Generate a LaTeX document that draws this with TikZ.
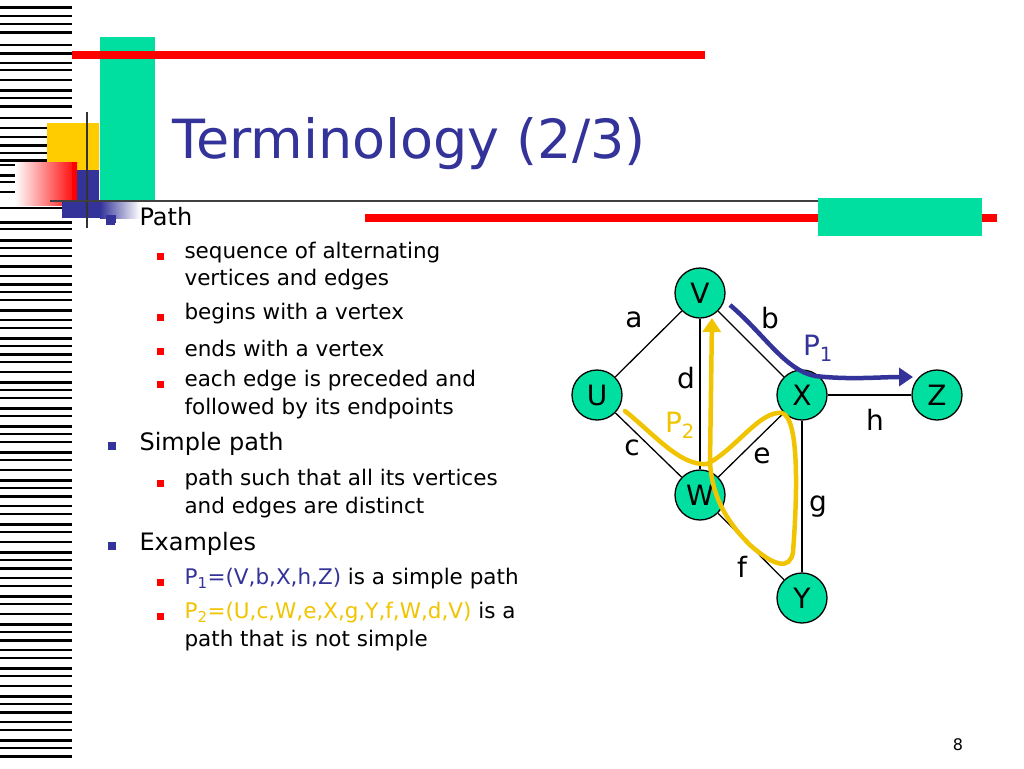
\documentclass[tikz,border=0pt]{standalone}
\usepackage{fontspec}
\setmainfont{DejaVu Sans}
\usetikzlibrary{arrows.meta}
\definecolor{tblue}{RGB}{51,51,153}
\definecolor{teal2}{RGB}{0,222,160}
\definecolor{gold}{RGB}{255,204,0}
\definecolor{pyel}{RGB}{240,196,0}
\begin{document}
\begin{tikzpicture}[x=1pt,y=-1pt,
  vtx/.style={circle,draw=black,line width=1.3pt,fill=teal2,minimum size=50pt,inner sep=0pt,font=\fontsize{28}{28}\selectfont},
  lab/.style={font=\fontsize{28}{28}\selectfont},
  edge/.style={line width=1.3pt},
  lone/.style={anchor=west,font=\fontsize{24}{24}\selectfont},
  ltwo/.style={anchor=west,font=\fontsize{21.5}{21.5}\selectfont},
  bone/.style={fill=tblue,minimum size=8pt,inner sep=0pt},
  btwo/.style={fill=red,minimum size=7pt,inner sep=0pt}]
\useasboundingbox (0,0) rectangle (1024,768);
% barcode
\foreach \yy/\w in {8/3,16/2,24/1.5,33/3,45/1.5,54/3,63/2,70/1.5,80/1.5,90/3,98/1.5,106/3,118/1.5,128/1.5,137/1.5,145/3,153/1.5,160/3,165/1.5,175/3,182/1.5,192/1.5,208/1.5,222/3,229/1.5,240/3,248/1.5,256/1.5,266/3,276/1.5,284/3,292/1.5,300/1.5,310/3,320/1.5,328/1.5,338/3,346/1.5,354/3,362/1.5,372/1.5,382/3,390/1.5,398/1.5,408/3,416/1.5,426/3,434/1.5,442/1.5,452/3,460/1.5,470/1.5,480/3,488/1.5,496/3,506/1.5,514/1.5,524/3,532/1.5,542/1.5,552/3,560/1.5,568/3,578/1.5,586/1.5,596/3,604/1.5,614/1.5,624/3,632/1.5,640/3,650/1.5,658/1.5,668/3,676/1.5,686/1.5,696/3,704/1.5,712/3,722/1.5,730/1.5,740/3,748/1.5,756/3}
  \fill[black] (0,\yy-\w/2) rectangle (72,\yy+\w/2);
% decorations
\fill[teal2] (100,37) rectangle (155,200);
\fill[red] (72,51) rectangle (705,59);
\fill[gold] (47,123) rectangle (99,170);
\shade[left color=white,right color=red] (15,162) rectangle (77,205);
\fill[red] (72,162) rectangle (77,205);
\fill[tblue] (77,170) rectangle (99,200);
\fill[tblue] (62,200) rectangle (100,218);
\shade[left color=tblue,right color=white] (100,200) rectangle (140,218);
\fill[tblue] (106,215) rectangle (115,225);
\draw[line width=2.5pt,black!80] (87,112) -- (87,228);
\draw[line width=2.5pt,black!75] (50,201) -- (820,201);
\fill[red] (365,214) rectangle (997,222);
\fill[teal2] (818,198) rectangle (982,236);
% title
\node[anchor=base west,text=tblue,font=\fontsize{54}{54}\selectfont,inner sep=0] (title) at (172,158) {Terminology (2/3)};
% bullets
\node[bone] (b1) at (112,219) {};
\node[lone] (t1) at (136,217) {Path};
\node[btwo] (s1) at (160,256) {}; \node[ltwo] (u1) at (181,253) {sequence of alternating};
\node[ltwo] (u1b) at (181,280) {vertices and edges};
\node[btwo] (s2) at (160,317) {}; \node[ltwo] (u2) at (181,314) {begins with a vertex};
\node[btwo] (s3) at (160,351) {}; \node[ltwo] (u3) at (181,348) {ends with a vertex};
\node[btwo] (s4) at (160,384) {}; \node[ltwo] (u4) at (181,381) {each edge is preceded and};
\node[ltwo] (u4b) at (181,409) {followed by its endpoints};
\node[bone] (b2) at (112,446) {};
\node[lone] (t2) at (136,444) {Simple path};
\node[btwo] (s5) at (160,483) {}; \node[ltwo] (u5) at (181,480) {path such that all its vertices};
\node[ltwo] (u5b) at (181,508) {and edges are distinct};
\node[bone] (b3) at (112,546) {};
\node[lone] (t3) at (136,544) {Examples};
\node[btwo] (s6) at (160,582) {}; \node[ltwo] (u6) at (181,579) {\textcolor{tblue}{P\textsubscript{1}=(V,b,X,h,Z)} is a simple path};
\node[btwo] (s7) at (160,616) {}; \node[ltwo] (u7) at (181,613) {\textcolor{pyel}{P\textsubscript{2}=(U,c,W,e,X,g,Y,f,W,d,V)} is a};
\node[ltwo] (u7b) at (181,641) {path that is not simple};
\node[font=\fontsize{16}{16}\selectfont] (pg) at (958,745) {8};
% graph
\node[vtx] (V) at (700,293) {V};
\node[vtx] (U) at (597,395) {U};
\node[vtx] (X) at (802,395) {X};
\node[vtx] (Z) at (937,395) {Z};
\node[vtx] (W) at (700,495) {W};
\node[vtx] (Y) at (802,598) {Y};
\draw[edge] (U) -- (V); \draw[edge] (V) -- (X); \draw[edge] (V) -- (W);
\draw[edge] (U) -- (W); \draw[edge] (W) -- (X); \draw[edge] (X) -- (Z);
\draw[edge] (X) -- (Y); \draw[edge] (W) -- (Y);
% P1
\coordinate (p1s) at (730,305);
\coordinate (p1e) at (913,377);
\draw[tblue,line width=4.5pt,-{Triangle[length=14pt,width=18pt]}] (p1s) .. controls (765,335) and (785,370) .. (815,376) .. controls (850,380) and (880,377) .. (p1e);
% P2
\coordinate (p2s) at (625,411);
\coordinate (p2e) at (712,318);
\draw[pyel,line width=4.5pt,line cap=round,-{Triangle[length=14pt,width=18pt]}] (p2s) .. controls (655,435) and (680,466) .. (707,464)
  .. controls (735,450) and (760,410) .. (782,413)
  .. controls (800,418) and (797,500) .. (793,552)
  .. controls (790,570) and (775,567) .. (750,545)
  .. controls (730,525) and (712,500) .. (710,462) -- (p2e);
% labels
\node[lab] (la) at (634,320) {a};
\node[lab] (lb) at (770,318) {b};
\node[lab,text=tblue] (lp1) at (818,348) {P\textsubscript{1}};
\node[lab] (ld) at (686,378) {d};
\node[lab] (lh) at (875,420) {h};
\node[lab,text=pyel] (lp2) at (680,425) {P\textsubscript{2}};
\node[lab] (lc) at (632,448) {c};
\node[lab] (le) at (762,456) {e};
\node[lab] (lg) at (818,507) {g};
\node[lab] (lf) at (742,567) {f};
\end{tikzpicture}
\end{document}
